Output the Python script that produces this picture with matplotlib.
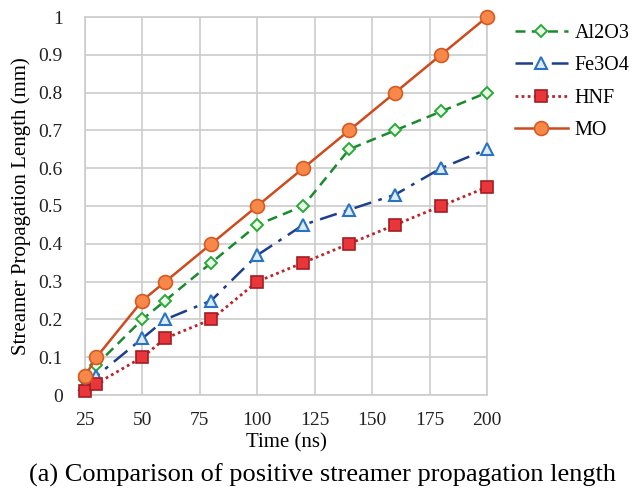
import matplotlib
matplotlib.use("Agg")
import matplotlib.pyplot as plt

time_ns = [25, 30, 50, 60, 80, 100, 120, 140, 160, 180, 200]
al2o3 = [0.04, 0.08, 0.20, 0.25, 0.35, 0.45, 0.50, 0.65, 0.70, 0.75, 0.80]
fe3o4 = [0.03, 0.05, 0.15, 0.20, 0.25, 0.37, 0.45, 0.49, 0.53, 0.60, 0.65]
hnf = [0.01, 0.03, 0.10, 0.15, 0.20, 0.30, 0.35, 0.40, 0.45, 0.50, 0.55]
mo = [0.05, 0.10, 0.25, 0.30, 0.40, 0.50, 0.60, 0.70, 0.80, 0.90, 1.00]

x_ticks = [25, 50, 75, 100, 125, 150, 175, 200]
y_ticks = [0, 0.1, 0.2, 0.3, 0.4, 0.5, 0.6, 0.7, 0.8, 0.9, 1]
y_labels = ["0", "0.1", "0.2", "0.3", "0.4", "0.5", "0.6", "0.7", "0.8", "0.9", "1"]

plt.rcParams["font.family"] = ["Liberation Serif", "DejaVu Serif"]

fig = plt.figure(figsize=(6.32, 4.9), dpi=100)
ax = fig.add_axes([85 / 632, 1 - 395 / 490, (487 - 85) / 632, (395 - 17) / 490])

common = dict(clip_on=False, zorder=4)
ax.plot(time_ns, al2o3, ls=(0, (4, 2.5)), color="#1a8a2e", lw=1.8, marker="D", ms=6.5,
        mfc="#eafbe6", mec="#2aa83a", mew=1.4, label="Al2O3", **common)
ax.plot(time_ns, fe3o4, ls=(0, (7, 3, 1.5, 3)), color="#1d3f8c", lw=1.8, marker="^", ms=9,
        mfc="#dcecfa", mec="#2a72c4", mew=1.5, label="Fe3O4", **common)
ax.plot(time_ns, hnf, ls=(0, (1, 1.2)), color="#b8262b", lw=2, marker="s", ms=9,
        mfc="#e8363a", mec="#a41d22", mew=1.2, label="HNF", **common)
ax.plot(time_ns, mo, ls="-", color="#cf4a1c", lw=1.8, marker="o", ms=10,
        mfc="#f7884a", mec="#d65a22", mew=1.2, label="MO", clip_on=False, zorder=5)

ax.set_xlim(25, 200)
ax.set_ylim(0, 1)
ax.set_xticks(x_ticks)
ax.set_yticks(y_ticks)
ax.set_yticklabels(y_labels)
ax.tick_params(axis="both", length=0, labelsize=14, colors="#222222")
ax.tick_params(axis="y", pad=16)
ax.tick_params(axis="x", pad=12)
ax.grid(True, color="#cccccc", lw=1.2)
ax.set_axisbelow(True)
for s in ax.spines.values():
    s.set_color("#cccccc")
    s.set_linewidth(1.2)

ax.set_xlabel("Time (ns)", fontsize=15, labelpad=3)
ax.set_ylabel("Streamer Propagation Length (mm)", fontsize=15, labelpad=5)

leg = ax.legend(loc="upper left", bbox_to_anchor=(1.025, 1.03), frameon=False,
                fontsize=14.5, handlelength=2.6, labelspacing=0.66, handletextpad=0.35)

fig.text(322 / 632, 1 - 475 / 490, "(a) Comparison of positive streamer propagation length",
         ha="center", va="center", fontsize=19)

fig.savefig("out.png", dpi=100, facecolor="white")
